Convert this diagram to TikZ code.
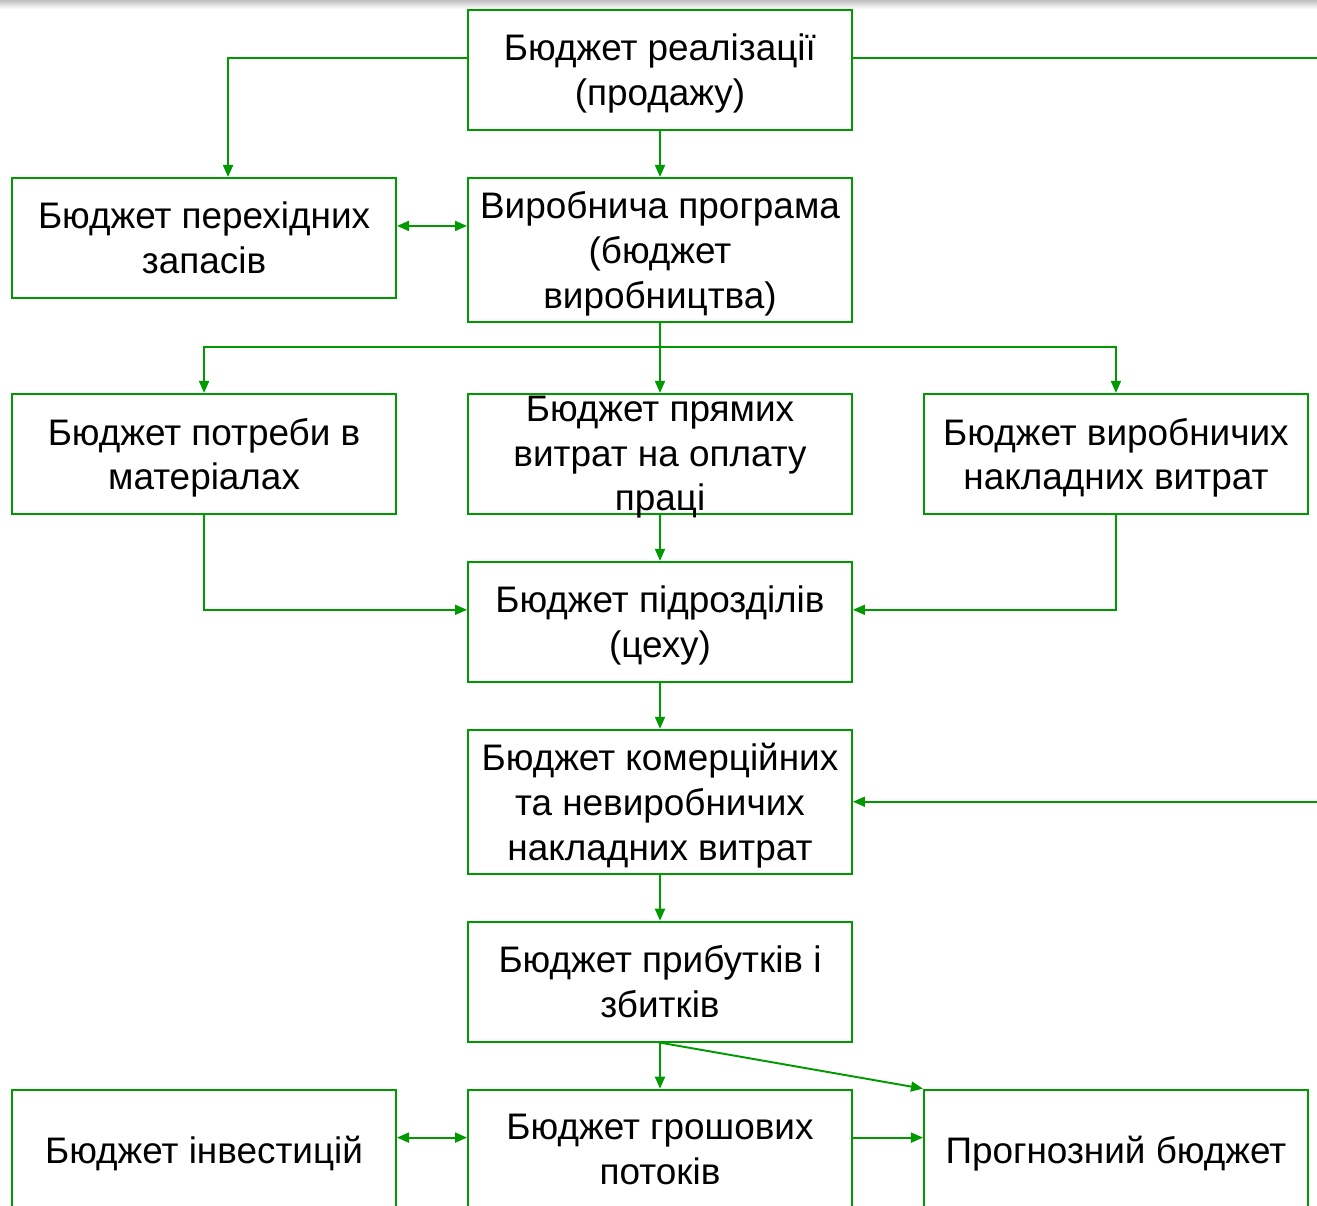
\documentclass[tikz,border=0pt]{standalone}
\usepackage{fontspec}
\setmainfont{Liberation Sans}
\usetikzlibrary{arrows.meta,positioning}
\definecolor{budgetgreen}{RGB}{0,153,0}

\begin{document}
\begin{tikzpicture}[
  node distance=0.92cm and 1.40cm,
  box/.style={draw=budgetgreen, line width=1.1pt, align=center, inner sep=0.1cm,
    minimum width=7.68cm, minimum height=2.4cm, text depth=0pt,
    font=\fontsize{21pt}{25.5pt}\selectfont},
  tallbox/.style={box, minimum height=2.88cm},
  arrow/.style={-{Triangle[length=0.24cm, width=0.2cm]}, draw=budgetgreen, line width=1.1pt},
  twoway/.style={{Triangle[length=0.24cm, width=0.2cm]}-{Triangle[length=0.24cm, width=0.2cm]}, draw=budgetgreen, line width=1.1pt},
  link/.style={draw=budgetgreen, line width=1.1pt}
]
\useasboundingbox (0,0) rectangle (26.34,-24.12);
\shade[top color=black!25, bottom color=white] (0,0) rectangle (26.34,-0.18);

\node[box] (sales) at (13.2,-1.4) {Бюджет реалізації\\(продажу)};
\node[tallbox, below=of sales] (prod) {Виробнича програма\\(бюджет\\виробництва)};
\node[box, left=of prod.north west, anchor=north east] (stock) {Бюджет перехідних\\запасів};
\node[box, below=1.40cm of prod, inner ysep=0pt, text height=2.28cm, text depth=0pt] (labour) {Бюджет прямих\\витрат на оплату\\праці};
\node[box, left=of labour] (material) {Бюджет потреби в\\матеріалах};
\node[box, right=of labour] (overhead) {Бюджет виробничих\\накладних витрат};
\node[box, below=of labour] (dept) {Бюджет підрозділів\\(цеху)};
\node[tallbox, below=of dept] (selling) {Бюджет комерційних\\та невиробничих\\накладних витрат};
\node[box, below=of selling] (profit) {Бюджет прибутків і\\збитків};
\node[box, below=of profit] (cash) {Бюджет грошових\\потоків};
\node[box, left=of cash] (invest) {Бюджет інвестицій};
\node[box, right=of cash] (forecast) {Прогнозний бюджет};

\coordinate (outtop) at (26.34,-1.16);
\coordinate (outmid) at (selling.east -| outtop);

\draw[arrow] ([yshift=0.24cm]sales.west) -| ([xshift=0.48cm]stock.north);
\draw[link] ([yshift=0.24cm]sales.east) -- (outtop);
\draw[arrow] (sales) -- (prod);
\draw[twoway] ([yshift=0.24cm]stock.east) -- ([yshift=0.24cm]stock.east -| prod.west);
\draw[arrow] (prod) -- (labour);
\draw[arrow] ([yshift=-0.48cm]prod.south) -| (material.north);
\draw[arrow] ([yshift=-0.48cm]prod.south) -| (overhead.north);
\draw[arrow] (material.south) |- ([yshift=0.24cm]dept.west);
\draw[arrow] (overhead.south) |- ([yshift=0.24cm]dept.east);
\draw[arrow] (labour) -- (dept);
\draw[arrow] (dept) -- (selling);
\draw[arrow] (outmid) -- (selling.east);
\draw[arrow] (selling) -- (profit);
\draw[arrow] (profit) -- (cash);
\draw[arrow] (profit.south) -- (forecast.north west);
\draw[twoway] ([yshift=0.24cm]invest.east) -- ([yshift=0.24cm]cash.west);
\draw[arrow] ([yshift=0.24cm]cash.east) -- ([yshift=0.24cm]forecast.west);
\end{tikzpicture}
\end{document}
